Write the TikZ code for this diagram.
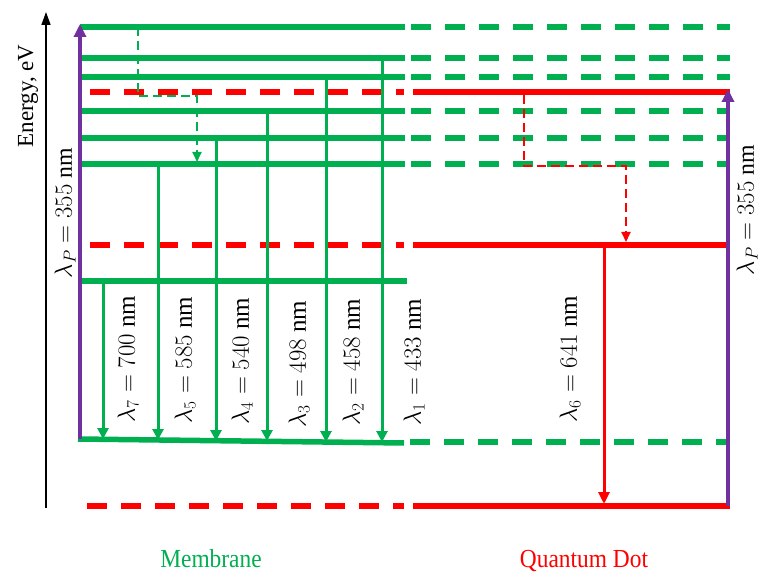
\documentclass[tikz,border=0pt]{standalone}
\usepackage{fontspec}
\setmainfont{Liberation Serif}
\usetikzlibrary{arrows.meta}
\definecolor{mgreen}{HTML}{00B050}
\definecolor{mred}{HTML}{FF0000}
\definecolor{mpurple}{HTML}{7030A0}
\begin{document}
\begin{tikzpicture}[x=1pt,y=-1pt,
  glevel/.style={mgreen,line width=5.5pt},
  gdash/.style={mgreen,line width=5.5pt,dash pattern=on 20pt off 14pt},
  rlevel/.style={mred,line width=6pt},
  rdash/.style={mred,line width=6pt,dash pattern=on 20pt off 14pt},
  garrow/.style={mgreen,line width=3pt,-{Triangle[width=11pt,length=11pt]}},
  rarrow/.style={mred,line width=3pt,-{Triangle[width=11pt,length=12pt]}},
  parrow/.style={mpurple,line width=4pt,-{Triangle[width=12pt,length=13pt]}},
  gnr/.style={mgreen,line width=1.8pt,dash pattern=on 9pt off 5pt,-{Triangle[width=9pt,length=10pt]}},
  rnr/.style={mred,line width=1.8pt,dash pattern=on 9pt off 5pt,-{Triangle[width=9pt,length=10pt]}},
  axisarrow/.style={black,line width=1.5pt,-{Triangle[width=9pt,length=13pt]}},
  lbl/.style={rotate=90,inner sep=0pt,font=\fontsize{25}{25}\selectfont},
  plbl/.style={rotate=90,inner sep=0pt,font=\fontsize{23.8}{24}\selectfont},
  captext/.style={inner sep=0pt,anchor=base,xscale=0.9,font=\fontsize{26}{26}\selectfont}
]
\useasboundingbox (0,0) rectangle (761,572);

% axis
\coordinate (axb) at (46,508);
\coordinate (axt) at (46,12);
\draw[axisarrow] (axb) -- (axt);
\node[rotate=90,inner sep=0pt,font=\fontsize{23}{23}\selectfont] (elab) at (28,96) {Energy, eV};

% green membrane levels (solid) and their dashed continuation
\foreach \y/\xs [count=\i] in {27/80,58/82,77/82,111/82,138/82,164/82}{
  \coordinate (gL\i) at (\xs,\y);
  \coordinate (gM\i) at (405,\y);
  \coordinate (gD\i) at (411,\y);
  \coordinate (gR\i) at (730,\y);
  \draw[glevel] (gL\i) -- (gM\i);
  \draw[gdash] (gD\i) -- (gR\i);
}
\coordinate (g7L) at (80,281);
\coordinate (g7R) at (407,281);
\draw[glevel] (g7L) -- (g7R);
% ground green
\coordinate (g0L) at (78,439);
\coordinate (g0M) at (404,443);
\coordinate (g0D) at (410,442);
\coordinate (g0R) at (728,442);
\draw[glevel] (g0L) -- (g0M);
\draw[gdash] (g0D) -- (g0R);

% red quantum dot levels
\foreach \y/\xs [count=\i] in {92/90,245/90,506/87}{
  \coordinate (rL\i) at (\xs,\y);
  \coordinate (rM\i) at (404,\y);
  \coordinate (rS\i) at (413,\y);
  \coordinate (rR\i) at (730,\y);
  \draw[rdash] (rL\i) -- (rM\i);
  \draw[rlevel] (rS\i) -- (rR\i);
}

% non-radiative relaxations
\coordinate (gn1) at (138,27);
\coordinate (gn2) at (138,96);
\coordinate (gn3) at (197,96);
\coordinate (gn4) at (197,162);
\draw[gnr] (gn1) -- (gn2) -- (gn3) -- (gn4);
\coordinate (rn1) at (524,95);
\coordinate (rn2) at (524,166);
\coordinate (rn3) at (626,166);
\coordinate (rn4) at (626,242);
\draw[rnr] (rn1) -- (rn2) -- (rn3) -- (rn4);

% green emissions
\foreach \x/\ys/\ye [count=\i] in {103/281/439,158/164/440,216/138/441,267/111/441,326/77/442,382/58/442}{
  \coordinate (ea\i) at (\x,\ys);
  \coordinate (eb\i) at (\x,\ye);
  \draw[garrow] (ea\i) -- (eb\i);
}
% red emission
\coordinate (r6a) at (604,245);
\coordinate (r6b) at (604,504);
\draw[rarrow] (r6a) -- (r6b);

% pump arrows
\coordinate (p1a) at (80,439);
\coordinate (p1b) at (80,24);
\draw[parrow] (p1a) -- (p1b);
\coordinate (p2a) at (728,506);
\coordinate (p2b) at (728,89);
\draw[parrow] (p2a) -- (p2b);

% labels
\node[plbl] (lp1) at (65,213) {$\lambda_P = 355\ \mathrm{nm}$};
\node[plbl] (lp2) at (747,210) {$\lambda_P = 355\ \mathrm{nm}$};
\node[lbl] (l7) at (128,359) {$\lambda_7 = 700\ \mathrm{nm}$};
\node[lbl] (l5) at (185,360) {$\lambda_5 = 585\ \mathrm{nm}$};
\node[lbl] (l4) at (242,361) {$\lambda_4 = 540\ \mathrm{nm}$};
\node[lbl] (l3) at (299,364) {$\lambda_3 = 498\ \mathrm{nm}$};
\node[lbl] (l2) at (353,362) {$\lambda_2 = 458\ \mathrm{nm}$};
\node[lbl] (l1) at (414,362) {$\lambda_1 = 433\ \mathrm{nm}$};
\node[lbl] (l6) at (570,359) {$\lambda_6 = 641\ \mathrm{nm}$};

\node[captext,text=mgreen] (mem) at (211,567) {Membrane};
\node[captext,text=mred] (qd) at (584,567) {Quantum Dot};
\end{tikzpicture}
\end{document}
